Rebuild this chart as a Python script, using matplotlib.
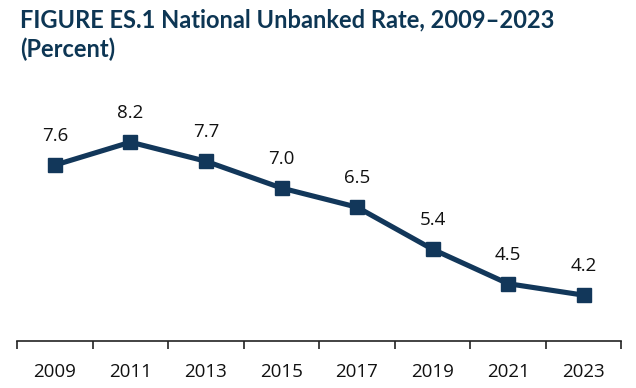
import numpy as np
import matplotlib.pyplot as plt

years = ["2009", "2011", "2013", "2015", "2017", "2019", "2021", "2023"]
rate = [7.6, 8.2, 7.7, 7.0, 6.5, 5.4, 4.5, 4.2]

navy = '#12375a'

fig = plt.figure(figsize=(6.36, 3.88), dpi=100)
ax = fig.add_axes([0.027, 0.121, 0.95, 0.5915])

x = np.arange(len(years))
ax.plot(x, rate, color=navy, lw=3.7, marker='s', ms=9.5, solid_joinstyle='round')

for xi, v in zip(x, rate):
    ax.annotate('%.1f' % v, (xi, v), xytext=(0, 21), textcoords='offset points',
                ha='center', va='center', fontsize=13.5, family='Open Sans', color='#111111')

ax.set_xlim(-0.5, len(years) - 0.5)
ax.set_ylim(3, 9)
ax.set_yticks([])
ax.set_xticks(x)
ax.set_xticklabels(years, fontsize=13.5, family='Open Sans', color='#111111')
ax.tick_params(axis='x', length=0, pad=16)
ax.set_xticks(np.arange(len(years) + 1) - 0.5, minor=True)
ax.tick_params(axis='x', which='minor', length=6, width=1.2, color='#222222')

for s in ['top', 'right', 'left']:
    ax.spines[s].set_visible(False)
ax.spines['bottom'].set_linewidth(1.2)
ax.spines['bottom'].set_color('#222222')

fig.text(0.031, 0.978, 'FIGURE ES.1 National Unbanked Rate, 2009\u20132023\n(Percent)',
         ha='left', va='top', fontsize=17, family='Lato', fontweight='bold',
         color='#0d3654', linespacing=1.3)

plt.savefig('out.png', dpi=100)
